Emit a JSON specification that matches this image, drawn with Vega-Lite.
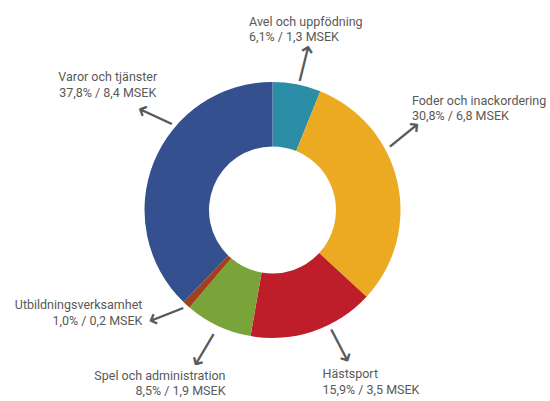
{
  "$schema": "https://vega.github.io/schema/vega-lite/v6.json",
  "width": 545,
  "height": 382,
  "autosize": "none",
  "padding": {"left": 0, "top": 19, "right": 5, "bottom": 0},
  "background": "white",
  "view": {"stroke": null},
  "data": {"values": [
    {"category": "Avel och uppfödning", "share": 6.1, "msek": 1.3},
    {"category": "Foder och inackordering", "share": 30.8, "msek": 6.8},
    {"category": "Hästsport", "share": 15.9, "msek": 3.5},
    {"category": "Spel och administration", "share": 8.5, "msek": 1.9},
    {"category": "Utbildningsverksamhet", "share": 1.0, "msek": 0.2},
    {"category": "Varor och tjänster", "share": 37.8, "msek": 8.4}
  ]},
  "transform": [
    {"window": [{"op": "sum", "field": "share", "as": "cum"}], "frame": [null, 0]},
    {"joinaggregate": [{"op": "sum", "field": "share", "as": "total"}]},
    {"calculate": "(datum.cum - datum.share) / datum.total", "as": "t0"},
    {"calculate": "datum.cum / datum.total", "as": "t1"},
    {"calculate": "(datum.cum - datum.share / 2) / datum.total", "as": "tm"},
    {"calculate": "datum.category + '\\n' + replace(format(datum.share, '.1f'), '.', ',') + '% / ' + replace(format(datum.msek, '.1f'), '.', ',') + ' MSEK'", "as": "label"}
  ],
  "encoding": {
    "theta": {"field": "tm", "type": "quantitative", "stack": null, "scale": {"domain": [0, 1]}}
  },
  "layer": [
    {
      "mark": {"type": "arc", "innerRadius": 63.5, "outerRadius": 128},
      "encoding": {
        "theta": {"field": "t0", "type": "quantitative", "stack": null, "scale": {"domain": [0, 1]}},
        "theta2": {"field": "t1"},
        "color": {
          "field": "category", "type": "nominal", "legend": null,
          "scale": {
            "domain": ["Avel och uppfödning", "Foder och inackordering", "Hästsport", "Spel och administration", "Utbildningsverksamhet", "Varor och tjänster"],
            "range": ["#2B8EA6", "#EBAA22", "#BE1E2A", "#78A43A", "#A2401C", "#34508E"]
          }
        }
      }
    },
    {
      "transform": [{"filter": "datum.category === 'Avel och uppfödning'"}],
      "layer": [
        {"mark": {"type": "text", "text": "⟶", "radius": 150, "align": "center", "baseline": "middle", "angle": -76, "dx": -0.3, "dy": 3.6, "font": "DejaVu Sans", "fontSize": 27, "color": "#595959"}},
        {"mark": {"type": "text", "radius": 150, "align": "left", "baseline": "alphabetic", "dx": -52, "dy": -36.8, "lineBreak": "\n", "font": "Roboto", "fontSize": 12.5, "lineHeight": 15, "color": "#595959"}, "encoding": {"text": {"field": "label"}}}
      ]
    },
    {
      "transform": [{"filter": "datum.category === 'Foder och inackordering'"}],
      "layer": [
        {"mark": {"type": "text", "text": "⟶", "radius": 150, "align": "center", "baseline": "middle", "angle": -39, "dx": 14.4, "dy": -41.5, "font": "DejaVu Sans", "fontSize": 27, "color": "#595959"}},
        {"mark": {"type": "text", "radius": 150, "align": "left", "baseline": "alphabetic", "dx": -6.9, "dy": -72.3, "lineBreak": "\n", "font": "Roboto", "fontSize": 12.5, "lineHeight": 15, "color": "#595959"}, "encoding": {"text": {"field": "label"}}}
      ]
    },
    {
      "transform": [{"filter": "datum.category === 'Hästsport'"}],
      "layer": [
        {"mark": {"type": "text", "text": "⟶", "radius": 150, "align": "center", "baseline": "middle", "angle": 62.5, "dx": 2.6, "dy": -19.4, "font": "DejaVu Sans", "fontSize": 27, "color": "#595959"}},
        {"mark": {"type": "text", "radius": 150, "align": "left", "baseline": "alphabetic", "dx": 1.9, "dy": 25.8, "lineBreak": "\n", "font": "Roboto", "fontSize": 12.5, "lineHeight": 16, "color": "#595959"}, "encoding": {"text": {"field": "label"}}}
      ]
    },
    {
      "transform": [{"filter": "datum.category === 'Spel och administration'"}],
      "layer": [
        {"mark": {"type": "text", "text": "⟶", "radius": 150, "align": "center", "baseline": "middle", "angle": 120.6, "dx": 5.4, "dy": 2.3, "font": "DejaVu Sans", "fontSize": 27, "color": "#595959"}},
        {"mark": {"type": "text", "radius": 150, "align": "right", "baseline": "alphabetic", "dx": 16.8, "dy": 34.5, "lineBreak": "\n", "font": "Roboto", "fontSize": 12.5, "lineHeight": 15, "color": "#595959"}, "encoding": {"text": {"field": "label"}}}
      ]
    },
    {
      "transform": [{"filter": "datum.category === 'Utbildningsverksamhet'"}],
      "layer": [
        {"mark": {"type": "text", "text": "⟶", "radius": 150, "align": "center", "baseline": "middle", "angle": 158.5, "dx": 2.2, "dy": 8.5, "font": "DejaVu Sans", "fontSize": 27, "color": "#595959"}},
        {"mark": {"type": "text", "radius": 150, "align": "right", "baseline": "alphabetic", "dx": -29.2, "dy": -11.6, "lineBreak": "\n", "font": "Roboto", "fontSize": 12.5, "lineHeight": 16, "color": "#595959"}, "encoding": {"text": {"field": "label"}}}
      ]
    },
    {
      "transform": [{"filter": "datum.category === 'Varor och tjänster'"}],
      "layer": [
        {"mark": {"type": "text", "text": "⟶", "radius": 150, "align": "center", "baseline": "middle", "angle": 205, "dx": -4.3, "dy": 43.5, "font": "DejaVu Sans", "fontSize": 27, "color": "#595959"}},
        {"mark": {"type": "text", "radius": 150, "align": "center", "baseline": "alphabetic", "dx": -25.7, "dy": -73.1, "lineBreak": "\n", "font": "Roboto", "fontSize": 12.5, "lineHeight": 16, "color": "#595959"}, "encoding": {"text": {"field": "label"}}}
      ]
    }
  ]
}
